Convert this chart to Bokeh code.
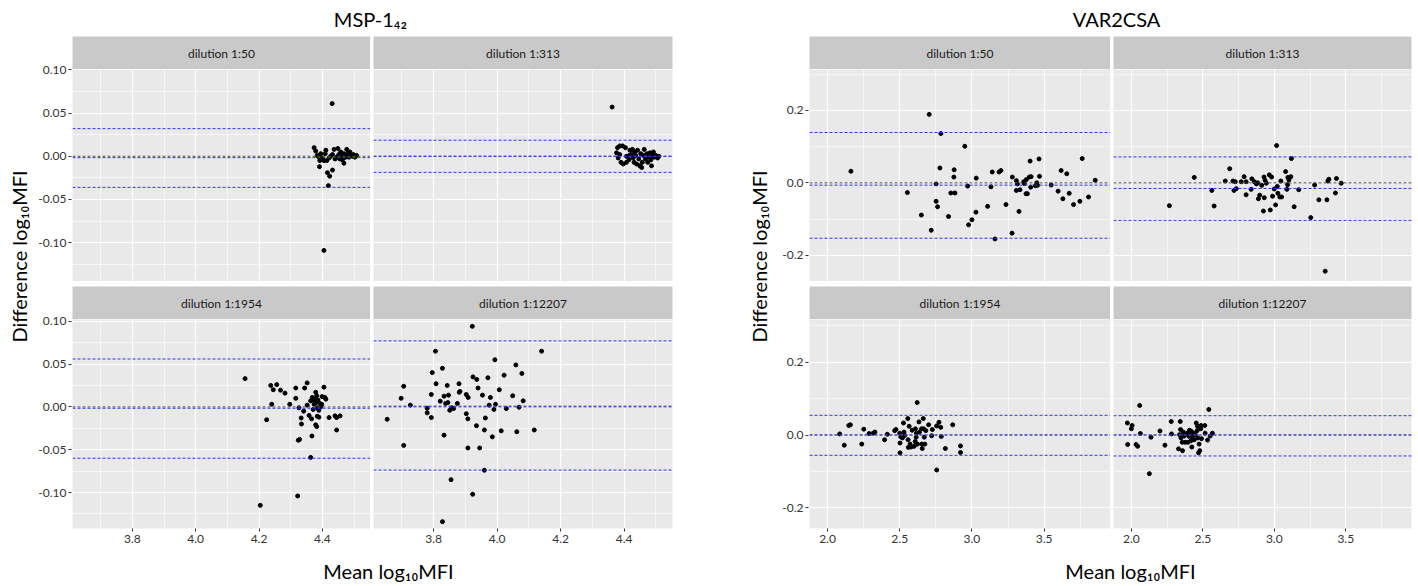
import math
from bokeh.plotting import figure
from bokeh.layouts import row, column
from bokeh.models import Range1d, FixedTicker, PrintfTickFormatter, Label, Span
from bokeh.embed import file_html
from bokeh.resources import INLINE

FONT = "Lato"
STRIP = "#c9c9c9"
PANEL = "#e9e9e9"
BLUE = "#3030ff"
ZERO = "#505050"

# ---------------- data: MSP-1 42 ----------------
msp_titles = ["dilution 1:50", "dilution 1:313", "dilution 1:1954", "dilution 1:12207"]

msp_50_x = [4.431, 4.405, 4.374, 4.379, 4.384, 4.389, 4.392, 4.391, 4.400, 4.405, 4.411, 4.414, 4.416, 4.423, 4.432,
            4.419, 4.421, 4.426, 4.432, 4.437, 4.440, 4.445, 4.449, 4.452, 4.458, 4.460, 4.463, 4.468, 4.468, 4.474,
            4.477, 4.479, 4.482, 4.484, 4.487, 4.489, 4.495, 4.498, 4.503, 4.508, 4.395, 4.409, 4.455, 4.466]
msp_50_y = [0.061, -0.109, 0.010, 0.006, 0.001, -0.001, -0.005, -0.012, -0.002, -0.005, 0.007, -0.005, -0.019, -0.023, -0.016,
            -0.034, -0.002, 0.000, 0.002, 0.008, -0.003, -0.001, 0.009, 0.002, 0.005, 0.000, -0.004, -0.008, 0.003, -0.001,
            0.008, 0.001, 0.004, -0.001, 0.005, 0.001, 0.000, 0.002, -0.001, 0.001, 0.003, 0.003, -0.003, -0.002]

msp_313_x = [4.362, 4.379, 4.386, 4.395, 4.404, 4.376, 4.386, 4.381, 4.390, 4.397, 4.407, 4.407, 4.415, 4.418, 4.423,
             4.426, 4.428, 4.431, 4.436, 4.439, 4.442, 4.446, 4.449, 4.455, 4.457, 4.460, 4.463, 4.467, 4.471, 4.474,
             4.478, 4.481, 4.484, 4.486, 4.488, 4.492, 4.495, 4.499, 4.505, 4.509, 4.416, 4.433, 4.452]
msp_313_y = [0.057, 0.010, 0.012, 0.012, 0.010, 0.004, 0.002, -0.002, -0.007, -0.009, -0.007, 0.000, -0.004, 0.007, 0.002,
             0.008, -0.002, -0.007, 0.001, -0.009, 0.007, -0.003, -0.011, -0.013, -0.007, 0.001, 0.008, -0.003, 0.003, -0.007,
             -0.001, 0.004, -0.004, -0.011, 0.001, 0.005, -0.001, 0.001, -0.002, 0.000, 0.001, 0.005, 0.003]

msp_1954_x = [4.156, 4.237, 4.245, 4.256, 4.268, 4.282, 4.240, 4.224, 4.297, 4.316, 4.316, 4.344, 4.352, 4.326, 4.333,
              4.334, 4.341, 4.352, 4.358, 4.366, 4.363, 4.368, 4.374, 4.379, 4.379, 4.384, 4.389, 4.395, 4.398, 4.384,
              4.389, 4.379, 4.382, 4.399, 4.408, 4.411, 4.405, 4.421, 4.440, 4.445, 4.456, 4.445, 4.328, 4.324, 4.367,
              4.363, 4.322, 4.204, 4.374, 4.382, 4.386, 4.392, 4.371, 4.377]
msp_1954_y = [0.033, 0.025, 0.020, 0.026, 0.0195, 0.016, 0.003, -0.015, 0.003, 0.022, 0.010, 0.022, 0.028, -0.001, -0.013,
              -0.020, -0.005, 0.002, -0.010, -0.014, 0.007, 0.011, 0.009, 0.017, 0.005, -0.001, -0.004, 0.000, 0.003, -0.011,
              -0.012, -0.021, -0.023, 0.012, 0.011, 0.009, 0.023, -0.0125, -0.0105, -0.0125, -0.0105, -0.027, -0.038, -0.039, -0.034,
              -0.059, -0.104, -0.115, 0.003, 0.013, 0.008, 0.004, -0.003, 0.006]

msp_12207_x = [3.922, 3.806, 4.140, 3.993, 4.059, 3.828, 3.796, 4.078, 3.924, 3.936, 4.022, 3.971, 3.808, 3.843, 3.880,
               3.706, 3.940, 3.883, 3.881, 4.007, 3.793, 3.847, 3.833, 3.903, 3.909, 3.954, 3.979, 4.049, 4.082, 3.698,
               3.727, 3.821, 3.838, 3.845, 3.875, 3.857, 3.863, 3.851, 3.780, 3.780, 3.793, 3.975, 3.995, 3.990, 4.029,
               4.069, 3.903, 3.908, 3.963, 3.935, 3.654, 3.960, 3.985, 4.013, 4.062, 4.117, 3.833, 3.706, 3.908, 3.945,
               3.960, 3.855, 3.923, 3.828]
msp_12207_y = [0.094, 0.065, 0.065, 0.055, 0.049, 0.045, 0.040, 0.039, 0.035, 0.032, 0.037, 0.034, 0.027, 0.025, 0.027,
               0.024, 0.022, 0.018, 0.017, 0.020, 0.0145, 0.0137, 0.0125, 0.0145, 0.011, 0.0137, 0.011, 0.013, 0.007, 0.010,
               0.002, 0.0066, 0.004, 0.005, 0.004, -0.001, -0.002, -0.004, -0.0016, -0.007, -0.0125, 0.002, 0.003, -0.003, -0.002,
               -0.0004, -0.008, -0.014, -0.013, -0.022, -0.0145, -0.027, -0.035, -0.028, -0.029, -0.027, -0.033, -0.045, -0.048, -0.048,
               -0.074, -0.085, -0.102, -0.134]

# limits of agreement: upper, mean, lower (blue); zero reference (grey)
msp_50_lines = [0.032, -0.0016, -0.036]
msp_313_lines = [0.0186, 0.0, -0.0186]
msp_1954_lines = [0.0559, -0.0016, -0.060]
msp_12207_lines = [0.077, 0.0008, -0.0738]

msp_x_ticks = [3.8, 4.0, 4.2, 4.4]
msp_x_minor = [3.7, 3.9, 4.1, 4.3, 4.5]
msp_y_ticks = [-0.10, -0.05, 0.0, 0.05, 0.10]
msp_y_minor = [-0.125, -0.075, -0.025, 0.025, 0.075]

# ---------------- data: VAR2CSA ----------------
var_titles = ["dilution 1:50", "dilution 1:313", "dilution 1:1954", "dilution 1:12207"]

var_50_x = [2.162, 2.704, 2.785, 2.951, 2.778, 2.877, 2.875, 2.752, 2.553, 2.854, 2.882, 2.970, 3.030, 2.752, 2.762,
            2.650, 2.838, 2.718, 2.977, 3.000, 3.028, 3.109, 3.160, 3.141, 3.188, 3.201, 3.132, 3.236, 3.278, 3.280,
            3.308, 3.315, 3.308, 3.333, 3.326, 3.359, 3.363, 3.375, 3.384, 3.377, 3.398, 3.403, 3.407, 3.410, 3.440,
            3.449, 3.454, 3.465, 3.468, 3.549, 3.597, 3.618, 3.630, 3.657, 3.674, 3.704, 3.748, 3.764, 3.808, 3.854]
var_50_y = [0.032, 0.189, 0.136, 0.101, 0.041, 0.036, 0.016, -0.003, -0.027, -0.028, -0.028, -0.009, 0.013, -0.051, -0.066,
            -0.089, -0.093, -0.131, -0.116, -0.102, -0.081, -0.065, -0.155, 0.030, 0.030, 0.034, -0.011, -0.060, -0.139, 0.016,
            0.006, -0.003, -0.021, -0.019, -0.079, 0.003, -0.002, -0.030, -0.030, 0.009, 0.016, 0.060, -0.012, 0.017, -0.008,
            0.000, -0.007, 0.066, 0.018, -0.006, -0.023, 0.034, -0.044, 0.025, -0.029, -0.060, -0.051, 0.067, -0.039, 0.007]

var_313_x = [2.266, 2.440, 2.563, 2.579, 2.657, 2.688, 2.711, 2.718, 2.727, 2.734, 2.769, 2.789, 2.803, 2.803, 2.838,
             2.843, 2.861, 2.875, 2.884, 2.889, 2.898, 2.912, 2.924, 2.928, 2.930, 2.935, 2.944, 2.965, 2.972, 2.981,
             2.988, 3.000, 3.009, 3.016, 3.021, 3.025, 3.039, 3.051, 3.046, 3.079, 3.088, 3.093, 3.095, 3.102, 3.116,
             3.120, 3.139, 3.171, 3.255, 3.282, 3.312, 3.368, 3.356, 3.375, 3.382, 3.428, 3.435, 3.468]
var_313_y = [-0.063, 0.015, -0.021, -0.064, 0.005, 0.039, 0.005, -0.021, 0.003, -0.016, 0.003, 0.017, 0.003, -0.033, -0.018,
             0.011, 0.003, -0.003, 0.000, -0.044, -0.034, -0.007, -0.078, 0.016, -0.041, 0.007, -0.001, 0.022, -0.075, 0.016,
             -0.037, -0.017, -0.061, 0.103, -0.010, -0.029, -0.039, -0.039, 0.005, 0.031, -0.018, -0.005, 0.015, 0.008, 0.017,
             0.067, -0.066, -0.019, -0.096, -0.006, -0.047, -0.047, -0.244, 0.005, 0.010, -0.028, 0.012, -0.001]

var_1954_x = [2.084, 2.116, 2.147, 2.158, 2.237, 2.251, 2.288, 2.316, 2.328, 2.395, 2.414, 2.465, 2.474, 2.500, 2.502,
              2.502, 2.507, 2.519, 2.526, 2.530, 2.535, 2.556, 2.558, 2.560, 2.565, 2.572, 2.579, 2.586, 2.600, 2.607,
              2.609, 2.614, 2.616, 2.621, 2.623, 2.633, 2.637, 2.651, 2.653, 2.656, 2.663, 2.665, 2.670, 2.674, 2.681,
              2.700, 2.721, 2.726, 2.756, 2.756, 2.772, 2.784, 2.788, 2.816, 2.867, 2.921, 2.921]
var_1954_y = [0.003, -0.028, 0.026, 0.028, -0.025, 0.016, 0.004, 0.005, 0.008, -0.013, 0.002, 0.012, 0.015, 0.005, -0.022,
              -0.049, -0.005, -0.008, 0.033, 0.008, -0.001, 0.045, -0.013, -0.034, 0.024, -0.025, -0.033, 0.013, -0.031, -0.018,
              0.017, -0.006, 0.005, 0.089, -0.025, 0.036, 0.008, 0.017, -0.025, -0.037, 0.045, 0.017, -0.006, -0.025, 0.012,
              0.028, -0.002, 0.015, 0.025, -0.096, 0.035, 0.021, -0.004, -0.037, 0.028, -0.030, -0.048]

var_12207_x = [1.972, 1.974, 2.000, 2.005, 2.033, 2.044, 2.058, 2.063, 2.126, 2.137, 2.200, 2.235, 2.279, 2.281, 2.330,
               2.337, 2.342, 2.344, 2.347, 2.356, 2.358, 2.363, 2.370, 2.377, 2.384, 2.395, 2.400, 2.407, 2.412, 2.416,
               2.419, 2.423, 2.428, 2.435, 2.440, 2.447, 2.454, 2.460, 2.463, 2.465, 2.470, 2.474, 2.479, 2.486, 2.488,
               2.491, 2.514, 2.516, 2.533, 2.542, 2.551, 2.567, 2.391, 2.405, 2.430]
var_12207_y = [0.033, -0.026, 0.017, 0.026, -0.026, -0.031, 0.081, 0.004, -0.106, -0.006, 0.011, -0.028, 0.037, 0.003, -0.038,
               0.001, 0.037, 0.015, -0.008, -0.020, -0.043, 0.008, -0.003, -0.020, 0.004, -0.020, 0.008, 0.013, -0.001, -0.016,
               0.010, -0.033, -0.005, 0.003, -0.013, 0.001, 0.033, 0.012, 0.024, -0.008, -0.049, -0.025, -0.043, 0.017, 0.026,
               -0.010, 0.026, 0.005, -0.014, 0.070, -0.003, 0.005, 0.002, -0.004, 0.006]

var_50_lines = [0.139, -0.0064, -0.153]
var_313_lines = [0.0716, -0.0156, -0.1037]
var_1954_lines = [0.054, 0.0, -0.0557]
var_12207_lines = [0.053, 0.0, -0.0575]

var_x_ticks = [2.0, 2.5, 3.0, 3.5]
var_x_minor = [2.25, 2.75, 3.25, 3.75]
var_y_ticks = [-0.2, 0.0, 0.2]
var_y_minor = [-0.3, -0.1, 0.1, 0.3]

zero_line = 0.0

# ---------------- layout constants ----------------
TITLE_H = 36
STRIP_H = 33
ROW_GAP = 5
TOP_FH = 212
BOT_FH = 209
XAXIS_H = 22
XLAB_H = 36
COL_GAP = 3
YLAB_FROM_TOP = 220   # centre of rotated y title, measured from top of panel block


def style_axis(ax):
    ax.axis_line_color = None
    ax.major_tick_line_color = "#333333"
    ax.major_tick_out = 3
    ax.major_tick_in = 0
    ax.minor_tick_line_color = None
    ax.major_label_standoff = 2
    ax.major_label_text_font = FONT
    ax.major_label_text_font_size = "12px"
    ax.major_label_text_color = "#333333"


def text_fig(w, h):
    f = figure(width=w, height=h, x_range=Range1d(0, w), y_range=Range1d(0, h), min_border=0,
               x_axis_location=None, y_axis_location=None, toolbar_location=None, output_backend="svg",
               outline_line_color=None, background_fill_color="white", border_fill_color="white")
    f.grid.visible = False
    return f


def strip_fig(text, fw, left, right, top):
    s = figure(frame_width=fw, frame_height=STRIP_H, x_range=Range1d(0, 1), y_range=Range1d(0, 1),
               min_border_left=left, min_border_right=right, min_border_top=top, min_border_bottom=0,
               x_axis_location=None, y_axis_location=None, toolbar_location=None, output_backend="svg",
               outline_line_color=None, background_fill_color=STRIP, border_fill_color="white")
    s.grid.visible = False
    s.add_layout(Label(x=0.5, y=0.5, text=text, text_align="center", text_baseline="middle",
                       text_font=FONT, text_font_size="12px", text_color="#1a1a1a"))
    return s


def yaxis_fig(yrange, yt, yfmt, width, fh, top, bottom):
    a = figure(frame_width=1, frame_height=fh, x_range=Range1d(0, 1), y_range=yrange,
               min_border_left=width - 1, min_border_right=0, min_border_top=top, min_border_bottom=bottom,
               x_axis_location=None, y_axis_location="left", toolbar_location=None, output_backend="svg",
               outline_line_color=None, background_fill_color="white", border_fill_color="white")
    a.grid.visible = False
    a.yaxis.ticker = FixedTicker(ticks=yt)
    a.yaxis.formatter = PrintfTickFormatter(format=yfmt)
    style_axis(a.yaxis)
    return a


def panel(xs, ys, lines, xr, yrange, xt, xm, yt, ym, xfmt, show_x, fw, fh, left, right, bottom):
    p = figure(frame_width=fw, frame_height=fh, x_range=Range1d(*xr), y_range=yrange,
               min_border_left=left, min_border_right=right, min_border_top=0, min_border_bottom=bottom,
               x_axis_location="below" if show_x else None, y_axis_location=None,
               toolbar_location=None, output_backend="svg", outline_line_color=None,
               background_fill_color=PANEL, border_fill_color="white")
    xtk = FixedTicker(ticks=xt, minor_ticks=xm)
    ytk = FixedTicker(ticks=yt, minor_ticks=ym)
    p.xgrid.ticker = xtk
    p.ygrid.ticker = ytk
    for g in (p.xgrid, p.ygrid):
        g.grid_line_color = "white"
        g.grid_line_width = 1.2
        g.minor_grid_line_color = "white"
        g.minor_grid_line_width = 0.6
    if show_x:
        p.xaxis.ticker = xtk
        p.xaxis.formatter = PrintfTickFormatter(format=xfmt)
        style_axis(p.xaxis)
    p.scatter(xs, ys, size=4, color="black")
    p.add_layout(Span(location=zero_line, dimension="width", line_color=ZERO, line_dash="3 2", line_width=1))
    for v in lines:
        p.add_layout(Span(location=v, dimension="width", line_color=BLUE, line_dash="3 2", line_width=1))
    return p


def composite(title, titles, data, lines, xr, yr_top, yr_bot, xt, xm, yt, ym, xfmt, yfmt,
              ylab_w, left_b, fw_l, fw_r, right_b, title_cx, xlab_cx):
    total_w = ylab_w + left_b + fw_l + COL_GAP + fw_r + right_b
    ytop = Range1d(*yr_top)
    ybot = Range1d(*yr_bot)

    tfig = text_fig(total_w, TITLE_H)
    tfig.add_layout(Label(x=title_cx, y=TITLE_H / 2.0, text=title, text_align="center",
                          text_baseline="middle", text_font=FONT, text_font_size="20px", text_color="black"))

    s1 = strip_fig(titles[0], fw_l, 0, 0, 0)
    s2 = strip_fig(titles[1], fw_r, COL_GAP, right_b, 0)
    p1 = panel(data[0][0], data[0][1], lines[0], xr, ytop, xt, xm, yt, ym, xfmt, False, fw_l, TOP_FH, 0, 0, 0)
    p2 = panel(data[1][0], data[1][1], lines[1], xr, ytop, xt, xm, yt, ym, xfmt, False, fw_r, TOP_FH, COL_GAP, right_b, 0)
    s3 = strip_fig(titles[2], fw_l, 0, 0, ROW_GAP)
    s4 = strip_fig(titles[3], fw_r, COL_GAP, right_b, ROW_GAP)
    p3 = panel(data[2][0], data[2][1], lines[2], xr, ybot, xt, xm, yt, ym, xfmt, True, fw_l, BOT_FH, 0, 0, XAXIS_H)
    p4 = panel(data[3][0], data[3][1], lines[3], xr, ybot, xt, xm, yt, ym, xfmt, True, fw_r, BOT_FH, COL_GAP, right_b, XAXIS_H)

    a_top = yaxis_fig(ytop, yt, yfmt, left_b, TOP_FH, STRIP_H, 0)
    a_bot = yaxis_fig(ybot, yt, yfmt, left_b, BOT_FH, ROW_GAP + STRIP_H, XAXIS_H)

    grid_h = STRIP_H + TOP_FH + ROW_GAP + STRIP_H + BOT_FH + XAXIS_H
    yfig = text_fig(ylab_w, grid_h)
    yfig.add_layout(Label(x=18, y=grid_h - YLAB_FROM_TOP, text="Difference log\u2081\u2080MFI", angle=math.pi / 2,
                          text_align="center", text_baseline="middle", text_font=FONT,
                          text_font_size="20px", text_color="black"))

    xfig = text_fig(total_w, XLAB_H)
    xfig.add_layout(Label(x=xlab_cx, y=XLAB_H - 20, text="Mean log\u2081\u2080MFI", text_align="center",
                          text_baseline="middle", text_font=FONT, text_font_size="20px", text_color="black"))

    grid = column(row(s1, s2), row(p1, p2), row(s3, s4), row(p3, p4))
    return column(tfig, row(yfig, column(a_top, a_bot), grid), xfig)


left = composite("MSP-1\u2084\u2082", msp_titles,
                 [(msp_50_x, msp_50_y), (msp_313_x, msp_313_y), (msp_1954_x, msp_1954_y), (msp_12207_x, msp_12207_y)],
                 [msp_50_lines, msp_313_lines, msp_1954_lines, msp_12207_lines],
                 (3.611, 4.552), (-0.145, 0.1005), (-0.142, 0.102),
                 msp_x_ticks, msp_x_minor, msp_y_ticks, msp_y_minor, "%.1f", "%.2f",
                 30, 42, 298, 299, 68, 370, 388)

right = composite("VAR2CSA", var_titles,
                  [(var_50_x, var_50_y), (var_313_x, var_313_y), (var_1954_x, var_1954_y), (var_12207_x, var_12207_y)],
                  [var_50_lines, var_313_lines, var_1954_lines, var_12207_lines],
                  (1.875, 3.96), (-0.2725, 0.313), (-0.2566, 0.317),
                  var_x_ticks, var_x_minor, var_y_ticks, var_y_minor, "%.1f", "%.1f",
                  35, 34, 301, 298, 7, 376, 390)

layout = row(left, right)
open("out.html", "w").write(file_html(layout, INLINE))
